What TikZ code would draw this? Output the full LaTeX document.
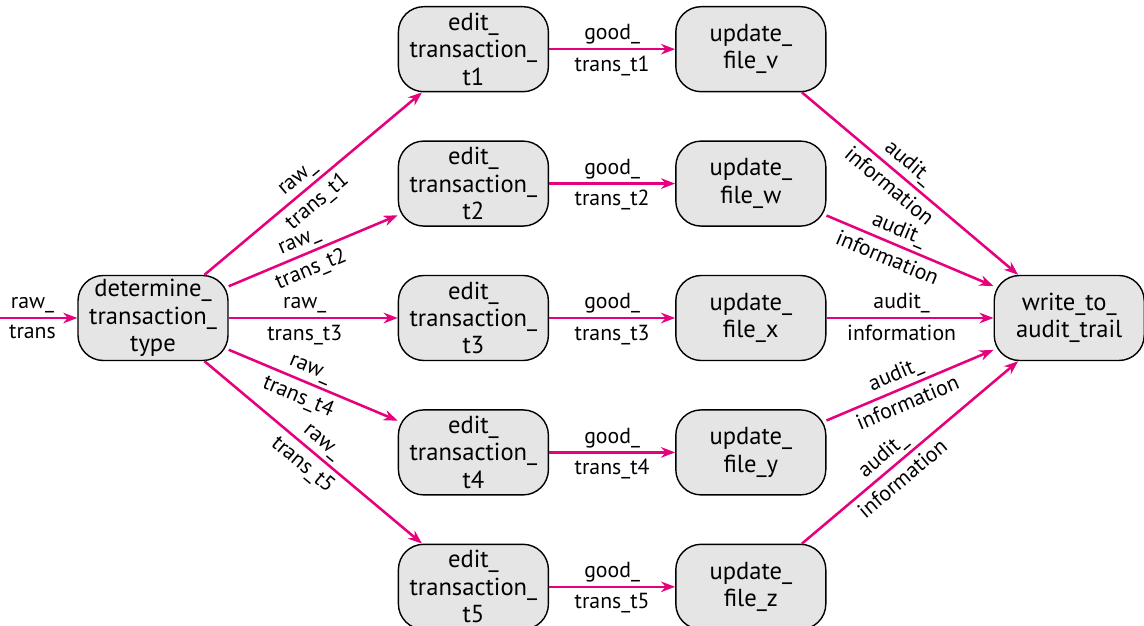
\documentclass[tikz,border=0pt]{standalone}
\usepackage{fontspec}
\setmainfont{PT Sans}
\usepackage{xcolor}
\usepackage{tikz}
\usetikzlibrary{arrows.meta,positioning}
\definecolor{flowpink}{RGB}{230,0,126}
\tikzset{>={Stealth[length=10pt,width=7.5pt]}}

\begin{document}
\begin{tikzpicture}[node distance=1.2cm and 3.15cm,
				proc/.style={rectangle, draw=black, line width=1pt, fill=black!10, rounded corners=18pt, minimum width=3.75cm, minimum height=2.125cm, inner sep=1pt, align=center, font=\fontsize{17.5}{19.5}\selectfont},
				flow/.style={->, line width=1.8pt, draw=flowpink},
				labtop/.style={above, inner sep=2.5pt, font=\fontsize{15.5}{19}\selectfont},
				labbot/.style={below, inner sep=4pt, font=\fontsize{15.5}{19}\selectfont}]
				
				\useasboundingbox (0,0) rectangle (28.6,-15.65);
				
				\node[proc] (det) at (3.825,-7.95) {determine\_\\transaction\_\\type};
				\node[proc, right=4.225cm of det] (edit3) {edit\_\\transaction\_\\t3};
				\node[proc, above=of edit3] (edit2) {edit\_\\transaction\_\\t2};
				\node[proc, above=of edit2] (edit1) {edit\_\\transaction\_\\t1};
				\node[proc, below=of edit3] (edit4) {edit\_\\transaction\_\\t4};
				\node[proc, below=of edit4] (edit5) {edit\_\\transaction\_\\t5};
				\node[proc, right=of edit1] (updv) {update\_\\file\_v};
				\node[proc, right=of edit2] (updw) {update\_\\file\_w};
				\node[proc, right=of edit3] (updx) {update\_\\file\_x};
				\node[proc, right=of edit4] (updy) {update\_\\file\_y};
				\node[proc, right=of edit5] (updz) {update\_\\file\_z};
				\node[proc, right=4.175cm of updx] (audit) {write\_to\_\\audit\_trail};
				\coordinate (input) at (0,-7.95);
				
				\draw[flow] (input) -- node[labtop, pos=0.42] {raw\_} node[labbot, pos=0.42] {trans} (det);
				
				\draw[flow] (det) -- node[labtop, sloped, pos=0.47] {raw\_} node[labbot, sloped, pos=0.47] {trans\_t1} (edit1);
				\draw[flow] (det) -- node[labtop, sloped, pos=0.45] {raw\_} node[labbot, sloped, pos=0.45] {trans\_t2} (edit2);
				\draw[flow] (det) -- node[labtop, pos=0.45] {raw\_} node[labbot, pos=0.45] {trans\_t3} (edit3);
				\draw[flow] (det) -- node[labtop, sloped, pos=0.45] {raw\_} node[labbot, sloped, pos=0.45] {trans\_t4} (edit4);
				\draw[flow] (det) -- node[labtop, sloped, pos=0.5] {raw\_} node[labbot, sloped, pos=0.5] {trans\_t5} (edit5);
				
				\draw[flow] (edit1) -- node[labtop] {good\_} node[labbot] {trans\_t1} (updv);
				\draw[flow] (edit2) -- node[labtop] {good\_} node[labbot] {trans\_t2} (updw);
				\draw[flow] (edit3) -- node[labtop] {good\_} node[labbot] {trans\_t3} (updx);
				\draw[flow] (edit4) -- node[labtop] {good\_} node[labbot] {trans\_t4} (updy);
				\draw[flow] (edit5) -- node[labtop] {good\_} node[labbot] {trans\_t5} (updz);
				
				\draw[flow] (updv) -- node[labtop, sloped, pos=0.45] {audit\_} node[labbot, sloped, pos=0.45] {information} (audit);
				\draw[flow] (updw) -- node[labtop, sloped, pos=0.4] {audit\_} node[labbot, sloped, pos=0.4] {information} (audit);
				\draw[flow] (updx) -- node[labtop, pos=0.45] {audit\_} node[labbot, pos=0.45] {information} (audit);
				\draw[flow] (updy) -- node[labtop, sloped, pos=0.45] {audit\_} node[labbot, sloped, pos=0.45] {information} (audit);
				\draw[flow] (updz) -- node[labtop, sloped, pos=0.42] {audit\_} node[labbot, sloped, pos=0.42] {information} (audit);
				
			\end{tikzpicture}
\end{document}
